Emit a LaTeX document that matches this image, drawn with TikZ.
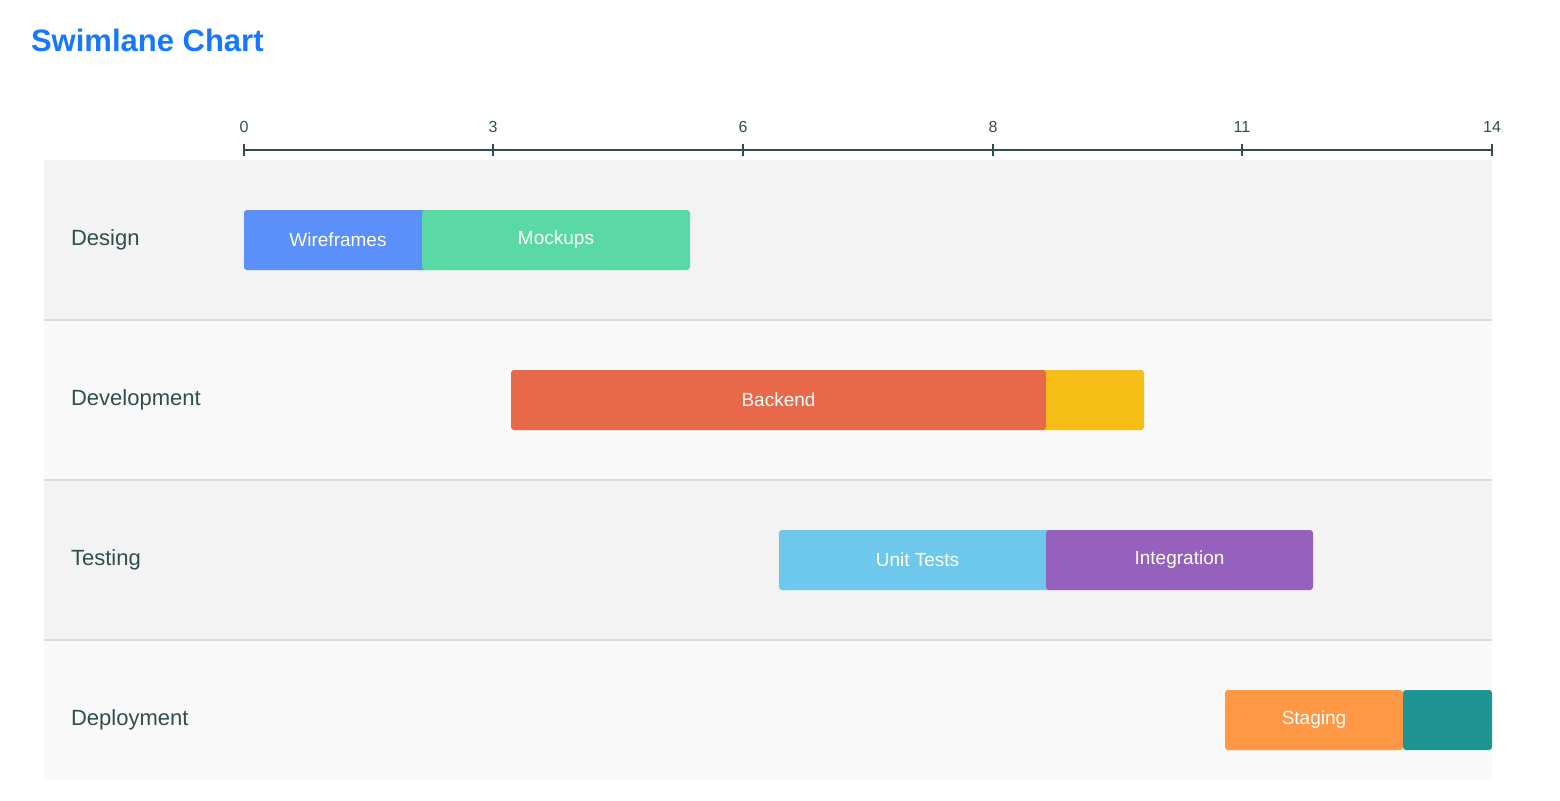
\documentclass[tikz,border=0pt]{standalone}
\usepackage{fontspec}
\setmainfont{Liberation Sans}
\definecolor{titleblue}{HTML}{1677FF}
\definecolor{axisgray}{HTML}{2F4F4F}
\definecolor{laneA}{HTML}{F3F3F3}
\definecolor{laneB}{HTML}{F9F9F9}
\definecolor{sepgray}{HTML}{DDDDDD}
\definecolor{cBlue}{HTML}{5B8FF9}
\definecolor{cGreen}{HTML}{5AD8A6}
\definecolor{cRed}{HTML}{E8684A}
\definecolor{cYellow}{HTML}{F6BD16}
\definecolor{cSky}{HTML}{6DC8EC}
\definecolor{cPurple}{HTML}{9661BC}
\definecolor{cOrange}{HTML}{FF9845}
\definecolor{cTeal}{HTML}{1E9493}
\tikzset{
    bar/.style={rectangle, rounded corners=1.5pt, minimum height=30pt, inner sep=0pt,
        text=white, font=\fontsize{9.5}{11}\selectfont, fill=#1},
    lanelabel/.style={anchor=west, text=axisgray, font=\fontsize{11}{13}\selectfont},
    ticklabel/.style={anchor=south, text=axisgray, font=\fontsize{8}{10}\selectfont}
}
\begin{document}
\begin{tikzpicture}[x=0.5pt,y=-0.5pt]
\useasboundingbox (0,0) rectangle (1560,800);

% Title
\node (title) [anchor=west, text=titleblue, font=\fontsize{15.5}{18}\bfseries\selectfont] at (24,40) {Swimlane Chart};

% Lanes
\fill [laneA] (44,160) rectangle (1492,320);
\fill [laneB] (44,320) rectangle (1492,480);
\fill [laneA] (44,480) rectangle (1492,640);
\fill [laneB] (44,640) rectangle (1492,780);
\foreach \y in {320,480,640}
    \draw [sepgray, line width=0.6pt] (44,\y) -- (1492,\y);

% Axis
\coordinate (axL) at (244,150);
\coordinate (axR) at (1492,150);
\draw [axisgray, line width=0.7pt] (axL) -- (axR);
\foreach \x/\t in {244/0,493/3,743/6,993/8,1242/11,1492/14} {
    \draw [axisgray, line width=0.7pt] (\x,144) -- (\x,156);
    \node [ticklabel] (tick\t) at (\x,140) {\t};
}

% Lane labels
\node [lanelabel] (design) at (64,240) {Design};
\node [lanelabel] (development) at (64,400) {Development};
\node [lanelabel] (testing) at (64,560) {Testing};
\node [lanelabel] (deployment) at (64,720) {Deployment};

% Bars
\node [bar=cBlue, minimum width=94pt] (wireframes) at (338,240) {Wireframes};
\node [bar=cGreen, minimum width=134pt] (mockups) at (556,240) {Mockups};
\node [bar=cYellow, minimum width=54pt] (frontend) at (1090,400) {};
\node [bar=cRed, minimum width=267.5pt] (backend) at (778.5,400) {Backend};
\node [bar=cSky, minimum width=138.5pt] (unittests) at (917.5,560) {Unit Tests};
\node [bar=cPurple, minimum width=133.5pt] (integration) at (1179.5,560) {Integration};
\node [bar=cOrange, minimum width=89pt] (staging) at (1314,720) {Staging};
\node [bar=cTeal, minimum width=44.5pt] (release) at (1447.5,720) {};

\end{tikzpicture}
\end{document}
